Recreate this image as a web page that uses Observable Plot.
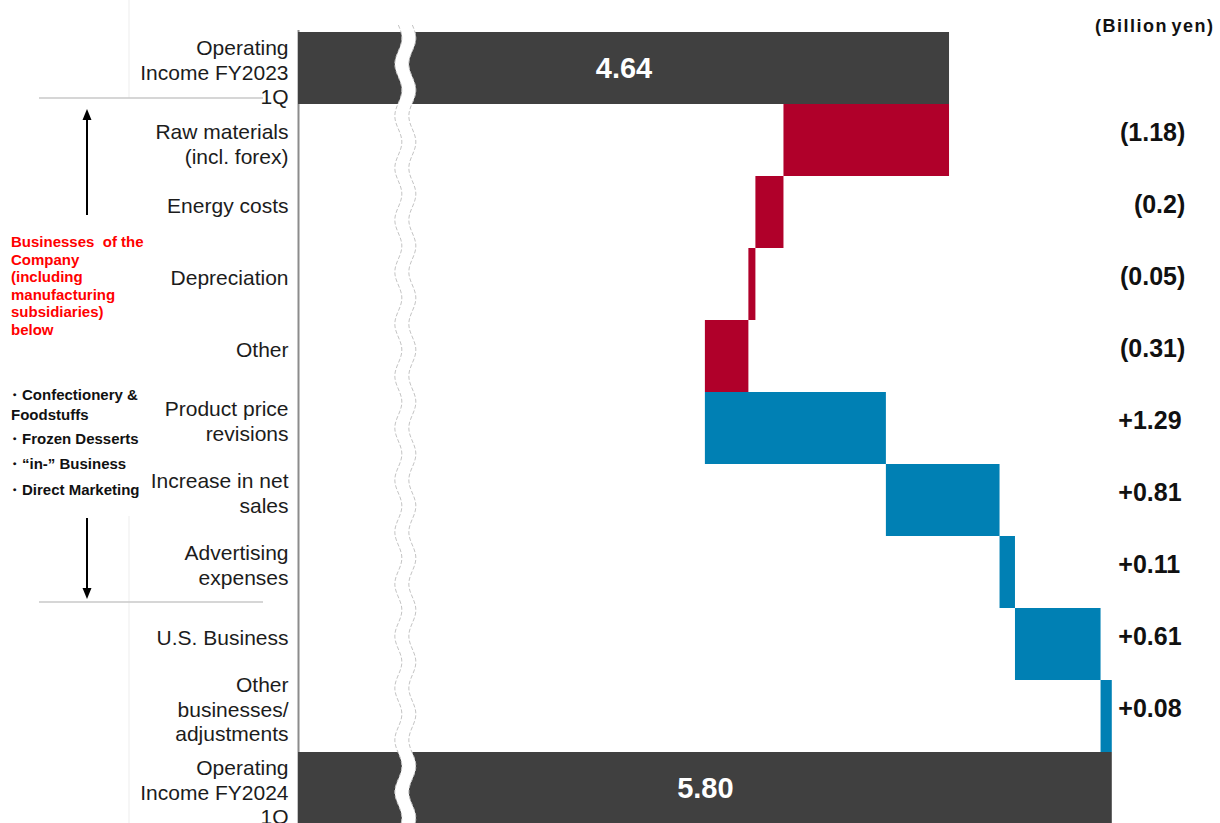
<!DOCTYPE html>
<html><head><meta charset="utf-8">
<script src="https://cdn.jsdelivr.net/npm/d3@7"></script>
<script src="https://cdn.jsdelivr.net/npm/@observablehq/plot@0.6"></script>
<style>
body{margin:0;background:#fff;font-family:"Liberation Sans",Arial,sans-serif;}
#wrap{position:relative;width:1220px;height:823px;overflow:hidden;}
#wrap svg{position:absolute;left:0;top:0;}
.unit{position:absolute;left:1095px;top:16px;font-weight:bold;font-size:18px;letter-spacing:1.5px;word-spacing:-3px;color:#111;white-space:nowrap;}
.note{position:absolute;left:11px;font-weight:bold;white-space:nowrap;}
.red{color:#ff0000;font-size:15px;line-height:17.6px;top:233px;}
.bul{color:#111;font-size:15px;line-height:16px;}
</style></head>
<body><div id="wrap"></div>
<script>
const categories = [
  "Operating\nIncome FY2023\n1Q",
  "Raw materials\n(incl. forex)",
  "Energy costs",
  "Depreciation",
  "Other",
  "Product price\nrevisions",
  "Increase in net\nsales",
  "Advertising\nexpenses",
  "U.S. Business",
  "Other\nbusinesses/\nadjustments",
  "Operating\nIncome FY2024\n1Q"
];
const startTotal = 4.64;
const endTotal = 5.80;
const changes = [-1.18, -0.2, -0.05, -0.31, 1.29, 0.81, 0.11, 0.61, 0.08];
const changeLabels = ["(1.18)", "(0.2)", "(0.05)", "(0.31)", "+1.29", "+0.81", "+0.11", "+0.61", "+0.08"];
const totalLabels = ["4.64", "5.80"];
const unitLabel = "(Billion yen)";
const noteTitle = ["Businesses  of the", "Company", "(including", "manufacturing", "subsidiaries)", "below"];
const noteItems = ["・Confectionery &", "Foodstuffs", "・Frozen Desserts", "・“in-” Business", "・Direct Marketing"];

const colors = {total: "#404040", down: "#B0002A", up: "#0080B4"};

// build waterfall table
const rows = [];
rows.push({cat: categories[0], x1: 0, x2: startTotal, kind: "total", label: totalLabels[0]});
let run = startTotal;
changes.forEach((c, i) => {
  const a = run, b = run + c;
  rows.push({cat: categories[i + 1], x1: Math.min(a, b), x2: Math.max(a, b), kind: c < 0 ? "down" : "up", label: changeLabels[i]});
  run = b;
});
rows.push({cat: categories[10], x1: 0, x2: endTotal, kind: "total", label: totalLabels[1]});

const totals = rows.filter(d => d.kind === "total");
const deltas = rows.filter(d => d.kind !== "total");
const raised = new Set([categories[0], categories[1], categories[10]]);

const labelStyle = {frameAnchor: "left", textAnchor: "end", dx: -10, fontSize: 21, lineHeight: 1.19, fill: "#1c1c1c"};

const plot = Plot.plot({
  width: 1220,
  height: 823,
  marginLeft: 298,
  marginRight: 10,
  marginTop: 30,
  marginBottom: 0,
  style: {fontFamily: "'Liberation Sans', Arial, sans-serif", background: "transparent"},
  x: {domain: [0, 6.5], range: [298, 1210], axis: null},
  y: {domain: categories, range: [30, 825.3], padding: 0, axis: null},
  marks: [
    Plot.ruleX([0], {stroke: "#8c8c8c", strokeWidth: 2}),
    Plot.barX(rows, {y: "cat", x1: "x1", x2: "x2", fill: d => colors[d.kind]}),
    Plot.text(totals, {y: "cat", x: d => (d.x1 + d.x2) / 2, text: "label", fill: "white", fontSize: 29, fontWeight: "bold"}),
    Plot.text(deltas.filter(d => d.kind === "down"), {y: "cat", x: () => endTotal, text: "label", textAnchor: "end", dx: 73, dy: -7.5, fontSize: 25, fontWeight: "bold", fill: "#111"}),
    Plot.text(deltas.filter(d => d.kind === "up"), {y: "cat", x: () => endTotal, text: "label", textAnchor: "start", dx: 6, dy: -7.5, fontSize: 25, fontWeight: "bold", fill: "#111"}),
    Plot.text(rows.filter(d => raised.has(d.cat)), {y: "cat", text: "cat", dy: 3, ...labelStyle}),
    Plot.text(rows.filter(d => !raised.has(d.cat)), {y: "cat", text: "cat", dy: -8, ...labelStyle})
  ]
});

const wrap = document.getElementById("wrap");
wrap.appendChild(plot);

// annotations
const svg = d3.select(plot);
const xs = plot.scale("x");
const ys = plot.scale("y");
const rowTop = i => ys.apply(categories[i]);

// faint frame lines
svg.append("line").attr("x1", 129).attr("x2", 129).attr("y1", 0).attr("y2", rowTop(1) - 6).attr("stroke", "#f3f3f3").attr("stroke-width", 1.5);
svg.append("line").attr("x1", 129).attr("x2", 129).attr("y1", rowTop(7) - 20).attr("y2", 823).attr("stroke", "#f3f3f3").attr("stroke-width", 1.5);

// separator lines
[1, 8].forEach(i => {
  svg.append("line").attr("x1", 39).attr("x2", 263).attr("y1", rowTop(i) - 6).attr("y2", rowTop(i) - 6)
    .attr("stroke", "#c8c8c8").attr("stroke-width", 1.6);
});

// arrows
const ax = 87;
svg.append("line").attr("x1", ax).attr("x2", ax).attr("y1", 215).attr("y2", 118).attr("stroke", "#000").attr("stroke-width", 2);
svg.append("path").attr("d", `M${ax},109 L${ax - 4.5},120 L${ax + 4.5},120 Z`).attr("fill", "#000");
svg.append("line").attr("x1", ax).attr("x2", ax).attr("y1", 518).attr("y2", 590).attr("stroke", "#000").attr("stroke-width", 2);
svg.append("path").attr("d", `M${ax},599 L${ax - 4.5},588 L${ax + 4.5},588 Z`).attr("fill", "#000");

// axis break (wavy white band)
const cx = xs.apply(0.765);
const half = 7, amp = 3.5, period = 52, yTop = 25, yBot = 830;
const leftPts = [], rightPts = [];
for (let y = yTop; y <= yBot; y += 2) {
  const off = amp * Math.sin(2 * Math.PI * (y - yTop) / period);
  leftPts.push([cx - half + off, y]);
  rightPts.push([cx + half + off, y]);
}
const line = d3.line();
svg.append("path").attr("d", line(leftPts.concat(rightPts.slice().reverse())) + "Z").attr("fill", "#fff");
[leftPts, rightPts].forEach(p => {
  svg.append("path").attr("d", line(p)).attr("fill", "none").attr("stroke", "#c4c4c4").attr("stroke-width", 1).attr("stroke-dasharray", "4,2");
});

// html texts
const unit = document.createElement("div");
unit.className = "unit"; unit.textContent = unitLabel; wrap.appendChild(unit);

const red = document.createElement("div");
red.className = "note red"; red.innerHTML = noteTitle.map(s => s.replace(/ /g, "&nbsp;")).join("<br>"); wrap.appendChild(red);

const bulletTops = [387, 407, 431, 456, 482];
noteItems.forEach((s, i) => {
  const d = document.createElement("div");
  d.className = "note bul";
  d.style.top = bulletTops[i] + "px";
  d.style.left = s.startsWith("・") ? "7px" : "11px";
  d.textContent = s;
  wrap.appendChild(d);
});
</script>
</body></html>
